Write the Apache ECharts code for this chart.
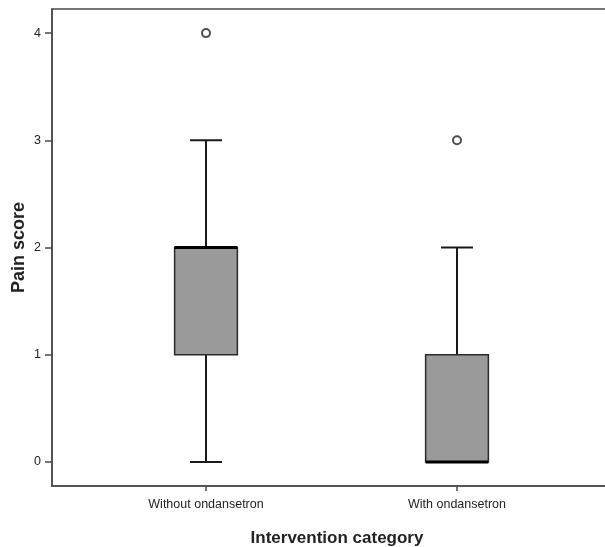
<!DOCTYPE html>
<html>
<head>
<meta charset="utf-8">
<script src="https://cdn.jsdelivr.net/npm/echarts@6/dist/echarts.min.js"></script>
<style>
  html, body { margin: 0; padding: 0; background: #fff; }
  #chart { width: 605px; height: 547px; }
</style>
</head>
<body>
<div id="chart"></div>
<script>
const categories = ['Without ondansetron', 'With ondansetron'];
const whiskerLow = [0, 0];
const quartile1 = [1, 0];
const medians = [2, 0];
const quartile3 = [2, 1];
const whiskerHigh = [3, 2];
const outliers = [[0, 4], [1, 3]];
const yTicks = [0, 1, 2, 3, 4];
const yMin = -0.225, yMax = 4.225;

const boxData = categories.map((c, i) => [i, whiskerLow[i], quartile1[i], medians[i], quartile3[i], whiskerHigh[i]]);

const FONT = 'Liberation Sans, Arial, sans-serif';
const FRAME = '#4a4a4a';
const INK = '#1a1a1a';

function renderBox(params, api) {
  const x = api.value(0);
  const lo = api.coord([x, api.value(1)]);
  const q1 = api.coord([x, api.value(2)]);
  const md = api.coord([x, api.value(3)]);
  const q3 = api.coord([x, api.value(4)]);
  const hi = api.coord([x, api.value(5)]);
  const band = api.size([1, 0])[0];
  const bw = band * 0.25;
  const cw = bw * 0.51;
  const cx = lo[0];
  const lineStyle = { stroke: INK, lineWidth: 2 };
  return {
    type: 'group',
    children: [
      { type: 'line', shape: { x1: cx, y1: q3[1], x2: cx, y2: hi[1] }, style: lineStyle },
      { type: 'line', shape: { x1: cx, y1: q1[1], x2: cx, y2: lo[1] }, style: lineStyle },
      { type: 'line', shape: { x1: cx - cw / 2, y1: hi[1], x2: cx + cw / 2, y2: hi[1] }, style: lineStyle },
      { type: 'line', shape: { x1: cx - cw / 2, y1: lo[1], x2: cx + cw / 2, y2: lo[1] }, style: lineStyle },
      { type: 'rect', shape: { x: cx - bw / 2, y: q3[1], width: bw, height: q1[1] - q3[1] },
        style: { fill: '#9a9a9a', stroke: '#2a2a2a', lineWidth: 1.5 } },
      { type: 'line', shape: { x1: cx - bw / 2, y1: md[1], x2: cx + bw / 2, y2: md[1] },
        style: { stroke: '#000', lineWidth: 3 } }
    ]
  };
}

const chart = echarts.init(document.getElementById('chart'), null, { renderer: 'canvas' });
chart.setOption({
  backgroundColor: '#fff',
  animation: false,
  grid: [
    { left: 52, width: 570, top: 9, bottom: 61, outerBoundsMode: 'none', containLabel: false,
      show: true, borderColor: FRAME, borderWidth: 1.5, backgroundColor: 'transparent' },
    { left: 80.5, right: 22.5, top: 9, bottom: 61, outerBoundsMode: 'none', containLabel: false }
  ],
  xAxis: [
    {
      gridIndex: 0, type: 'value', min: 0, max: 1,
      axisLine: { show: true, onZero: false, lineStyle: { color: FRAME, width: 1.5 } },
      axisTick: { show: false }, axisLabel: { show: false }, splitLine: { show: false },
      name: 'Intervention category', nameLocation: 'middle', nameGap: 44, nameMoveOverlap: false,
      nameTextStyle: { fontFamily: FONT, fontWeight: 'bold', fontSize: 17, color: '#222' }
    },
    {
      gridIndex: 1, type: 'category', data: categories, boundaryGap: true,
      axisLine: { show: false, onZero: false },
      axisTick: { show: true, alignWithLabel: true, length: 5, lineStyle: { color: FRAME, width: 1.5 } },
      axisLabel: { fontFamily: FONT, fontSize: 12.5, color: '#222', margin: 12 },
      splitLine: { show: false }
    }
  ],
  yAxis: [
    {
      gridIndex: 0, type: 'value', min: yMin, max: yMax,
      axisLine: { show: true, onZero: false, lineStyle: { color: FRAME, width: 1.5 } },
      axisTick: { show: true, length: 7, customValues: yTicks, lineStyle: { color: FRAME, width: 1.5 } },
      axisLabel: { fontFamily: FONT, fontSize: 12.5, color: '#222', margin: 11, customValues: yTicks,
        formatter: v => String(Math.round(v)) },
      splitLine: { show: false },
      name: 'Pain score', nameLocation: 'middle', nameGap: 23.5, nameMoveOverlap: false,
      nameTextStyle: { fontFamily: FONT, fontWeight: 'bold', fontSize: 18, color: '#222' }
    },
    {
      gridIndex: 1, type: 'value', min: yMin, max: yMax, show: false
    }
  ],
  series: [
    {
      type: 'custom', xAxisIndex: 1, yAxisIndex: 1,
      renderItem: renderBox, data: boxData,
      encode: { x: 0, y: [1, 2, 3, 4, 5] }
    },
    {
      type: 'scatter', xAxisIndex: 1, yAxisIndex: 1,
      data: outliers,
      symbol: 'circle', symbolSize: 8,
      itemStyle: { color: '#fff', borderColor: '#222', borderWidth: 2 }
    }
  ]
});
</script>
</body>
</html>
